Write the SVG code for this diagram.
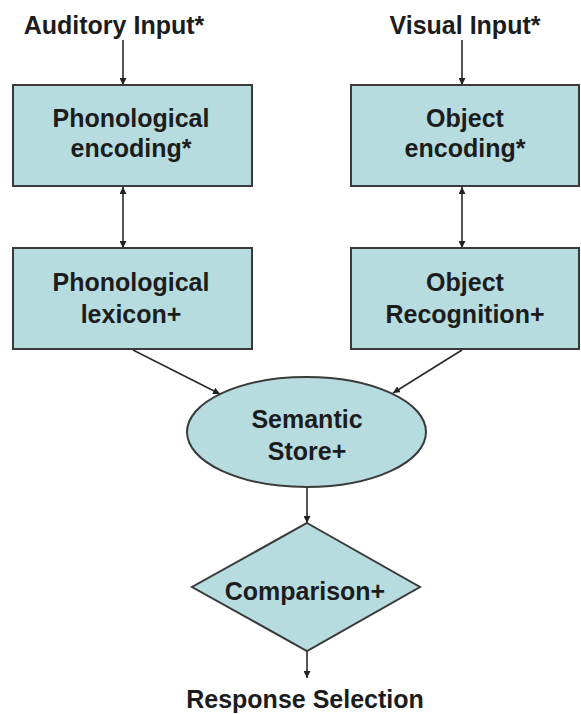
<svg xmlns="http://www.w3.org/2000/svg" width="581" height="714" viewBox="0 0 581 714">
<defs>
<marker id="ah" viewBox="0 0 10 10" refX="10" refY="5" markerWidth="7" markerHeight="7" orient="auto-start-reverse" markerUnits="userSpaceOnUse">
<path d="M0,0 L10,5 L0,10 z" fill="#222"/>
</marker>
<style>
.n{fill:#b6dce0;stroke:#3a3a3a;stroke-width:2}
.t{font-family:"Liberation Sans",Arial,sans-serif;font-weight:bold;font-size:25px;fill:#1c1c1c;text-anchor:middle}
.c{stroke:#2a2a2a;stroke-width:1.6;fill:none;marker-end:url(#ah)}
.b{marker-start:url(#ah)}
</style>
</defs>
<rect width="581" height="714" fill="#fff"/>
<g id="connectors">
<line class="c" x1="123" y1="40" x2="123" y2="85"/>
<line class="c" x1="462" y1="40" x2="462" y2="85"/>
<line class="c b" x1="123" y1="187" x2="123" y2="248"/>
<line class="c b" x1="462" y1="187" x2="462" y2="248"/>
<line class="c" x1="133" y1="350" x2="220" y2="394"/>
<line class="c" x1="462" y1="350" x2="393" y2="393"/>
<line class="c" x1="307" y1="487" x2="307" y2="523"/>
<line class="c" x1="307" y1="651" x2="307" y2="678"/>
</g>
<g id="auditory-input"><text class="t" x="114" y="34">Auditory Input*</text></g>
<g id="visual-input"><text class="t" x="465" y="34">Visual Input*</text></g>
<g id="phonological-encoding">
<rect class="n" x="13" y="85" width="239" height="101"/>
<text class="t" x="131" y="127">Phonological</text>
<text class="t" x="131" y="157">encoding*</text>
</g>
<g id="object-encoding">
<rect class="n" x="351" y="85" width="228" height="101"/>
<text class="t" x="465" y="127">Object</text>
<text class="t" x="465" y="157">encoding*</text>
</g>
<g id="phonological-lexicon">
<rect class="n" x="13" y="248" width="239" height="101"/>
<text class="t" x="131" y="291">Phonological</text>
<text class="t" x="131" y="323">lexicon+</text>
</g>
<g id="object-recognition">
<rect class="n" x="351" y="248" width="228" height="101"/>
<text class="t" x="465" y="291">Object</text>
<text class="t" x="465" y="323">Recognition+</text>
</g>
<g id="semantic-store">
<ellipse class="n" cx="306.5" cy="432" rx="119.5" ry="55"/>
<text class="t" x="307" y="428">Semantic</text>
<text class="t" x="307" y="460">Store+</text>
</g>
<g id="comparison">
<polygon class="n" points="307,523 420,587 307,651 192,587"/>
<text class="t" x="305" y="600">Comparison+</text>
</g>
<g id="response-selection"><text class="t" x="305" y="708">Response Selection</text></g>
</svg>
